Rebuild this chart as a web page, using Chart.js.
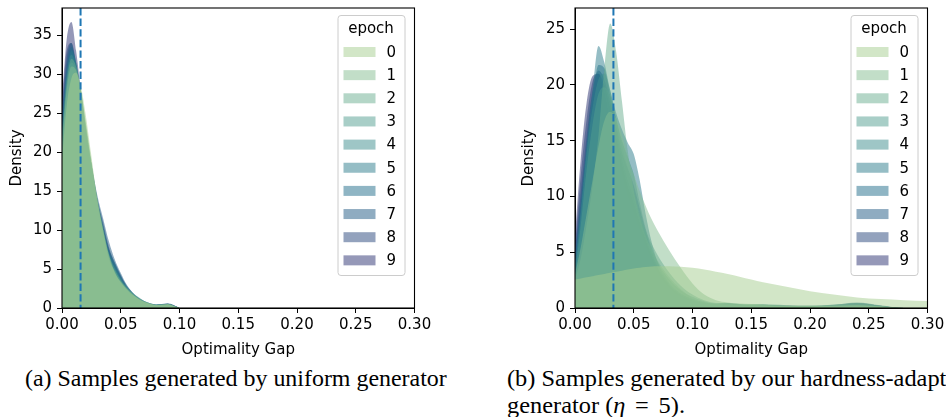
<!DOCTYPE html>
<html>
<head>
<meta charset="utf-8">
<script src="https://cdn.jsdelivr.net/npm/chart.js@4/dist/chart.umd.min.js"></script>
<style>
  html, body { margin: 0; padding: 0; background: #fff; }
  body { width: 946px; height: 417px; overflow: hidden; position: relative; }
  canvas { position: absolute; top: 0; }
  #cA { left: 0; }
  #cB { left: 510px; }
  .cap { position: absolute; font-family: "Liberation Serif", "Times New Roman", serif; font-size: 23px;
         line-height: 27px; color: #000; white-space: nowrap; transform-origin: left top; }
  .eq { margin: 0 0.4em; }
</style>
</head>
<body>
<canvas id="cA" width="470" height="362"></canvas>
<canvas id="cB" width="470" height="362"></canvas>
<div class="cap" style="left:25px; top:365px; transform: scaleX(1.04);">(a) Samples generated by uniform generator</div>
<div class="cap" style="left:507px; top:365px; transform: scaleX(1.06);">(b) Samples generated by our hardness-adaptive<br>generator (<i>η</i><span class="eq">=</span>5).</div>
<script>
// epoch labels + crest colours
const epochs = ['0', '1', '2', '3', '4', '5', '6', '7', '8', '9'];
const epochColors = ['#a5cd90', '#86be91', '#69ae90', '#519e8f', '#3d8e8e', '#2b7c8c', '#206b89', '#205984', '#27457c', '#2c3172'];

// (a) uniform generator
const gapA = [0, 0.004, 0.008, 0.012, 0.016, 0.02, 0.025, 0.03, 0.035, 0.04, 0.045, 0.05, 0.055, 0.06, 0.065, 0.07, 0.075, 0.08, 0.085, 0.09, 0.095, 0.1];
const uni0 = [19, 26, 29.5, 30.2, 28.5, 25, 19.5, 14, 10, 6.8, 4.6, 3.3, 2.4, 1.7, 1.2, 0.8, 0.55, 0.4, 0.45, 0.5, 0.3, 0];
const uni1 = [21, 28, 31, 30.5, 28, 24, 19, 14.2, 10, 6.5, 4.5, 3.4, 2.5, 1.8, 1.2, 0.8, 0.5, 0.35, 0.4, 0.45, 0.25, 0];
const uni2 = [22, 29, 32, 31, 28, 24, 18.5, 13.5, 9.5, 6.2, 4.8, 3.5, 2.6, 1.9, 1.3, 0.9, 0.6, 0.4, 0.35, 0.4, 0.2, 0];
const uni3 = [20, 28.5, 31.5, 30.5, 27.5, 23.5, 18.5, 14, 10.5, 7, 5, 3.6, 2.6, 1.8, 1.2, 0.8, 0.55, 0.4, 0.45, 0.5, 0.3, 0];
const uni4 = [23, 30, 32.5, 31, 27.5, 23, 18, 13.5, 10, 6.8, 5.2, 3.8, 2.8, 2, 1.4, 0.9, 0.6, 0.45, 0.5, 0.55, 0.3, 0];
const uni5 = [22, 29.5, 33, 31.5, 28, 23.5, 18.5, 14, 10, 7.2, 5.6, 3.9, 2.6, 1.8, 1.2, 0.8, 0.5, 0.4, 0.45, 0.5, 0.3, 0];
const uni6 = [24, 31, 33.5, 31.5, 27.5, 23, 18.5, 14, 10.5, 7.5, 5.8, 4.2, 2.9, 2, 1.3, 0.9, 0.6, 0.45, 0.5, 0.55, 0.35, 0];
const uni7 = [25, 32, 34, 31.5, 27, 22.5, 18.5, 14.5, 11.5, 8.5, 6.2, 4.5, 3, 2, 1.3, 0.85, 0.55, 0.45, 0.5, 0.6, 0.4, 0];
const uni8 = [26, 33, 34, 31, 27, 22.5, 18, 14, 11, 7.8, 5.8, 4.2, 2.8, 1.9, 1.2, 0.8, 0.5, 0.4, 0.45, 0.55, 0.35, 0];
const uni9 = [27, 34.5, 36.7, 33, 28, 23, 18, 13.8, 10.5, 7.5, 5.5, 4, 2.7, 1.8, 1.2, 0.8, 0.5, 0.35, 0.4, 0.5, 0.3, 0];
const medianA = 0.0158;

// (b) hardness-adaptive generator
const gapB = [0, 0.005, 0.01, 0.015, 0.02, 0.025, 0.03, 0.035, 0.04, 0.045, 0.05, 0.055, 0.06, 0.065, 0.07, 0.08, 0.09, 0.1, 0.11, 0.12, 0.13, 0.14, 0.15, 0.16, 0.18, 0.2, 0.22, 0.24, 0.26, 0.28, 0.3];
const adv0 = [2.55, 2.65, 2.75, 2.85, 2.95, 3.05, 3.15, 3.25, 3.35, 3.45, 3.55, 3.62, 3.68, 3.72, 3.75, 3.75, 3.7, 3.6, 3.45, 3.25, 3.05, 2.8, 2.55, 2.3, 1.9, 1.5, 1.2, 0.95, 0.8, 0.7, 0.63];
const adv1 = [3, 5.5, 8.5, 11.5, 14.5, 16.8, 17.6, 17, 15.5, 13.5, 12, 10.5, 9.2, 8, 7, 5.2, 3.6, 2.2, 1.2, 0.7, 0.5, 0.4, 0.35, 0.3, 0.2, 0.2, 0.2, 0.25, 0.15, 0, 0];
const adv2 = [2.5, 4.5, 7.5, 11, 15.5, 21.5, 25.5, 23, 18.5, 14, 10.5, 8.2, 6.5, 5.3, 4.3, 2.8, 1.7, 0.9, 0.5, 0.35, 0.3, 0.25, 0.25, 0.2, 0.15, 0.15, 0.1, 0.1, 0.05, 0, 0];
const adv3 = [3, 7.5, 12.5, 16.5, 19.2, 19.8, 19, 17, 14.5, 12.5, 10.5, 8.5, 7, 5.8, 4.8, 3.2, 2, 1.2, 0.7, 0.45, 0.4, 0.3, 0.35, 0.3, 0.2, 0.15, 0.2, 0.3, 0.15, 0, 0];
const adv4 = [3.5, 8.5, 14, 18, 20.5, 21, 19.5, 17, 15, 13.5, 12, 9.5, 7.2, 5.5, 4.2, 2.6, 1.6, 1, 0.6, 0.4, 0.45, 0.35, 0.3, 0.35, 0.25, 0.2, 0.3, 0.4, 0.2, 0, 0];
const adv5 = [4, 9, 14.5, 19.5, 23.5, 22, 19.5, 17.5, 16, 14.8, 13.8, 11.5, 8.5, 6, 4.2, 2.3, 1.3, 0.8, 0.5, 0.4, 0.45, 0.35, 0.3, 0.3, 0.2, 0.2, 0.3, 0.45, 0.2, 0, 0];
const adv6 = [4.5, 9.5, 14.5, 18.8, 21.8, 21.5, 19, 16.5, 14, 12.5, 11, 9, 7, 5.2, 3.8, 2.2, 1.3, 0.8, 0.5, 0.35, 0.4, 0.3, 0.25, 0.3, 0.2, 0.2, 0.3, 0.5, 0.25, 0, 0];
const adv7 = [5, 10.5, 15.5, 19.5, 21.3, 20.5, 18.5, 16, 13.5, 11.5, 10, 8.2, 6.5, 5, 3.7, 2.1, 1.2, 0.7, 0.45, 0.35, 0.4, 0.3, 0.25, 0.25, 0.2, 0.15, 0.25, 0.45, 0.2, 0, 0];
const adv8 = [5.5, 12, 17, 20.3, 21, 20, 18, 15.5, 13, 11, 9.5, 7.8, 6.2, 4.8, 3.5, 2, 1.1, 0.6, 0.4, 0.3, 0.35, 0.3, 0.25, 0.25, 0.2, 0.15, 0.2, 0.4, 0.2, 0, 0];
const adv9 = [6.5, 13.5, 18.5, 20.8, 21, 19.5, 17, 14.5, 12, 10, 8.5, 7, 5.6, 4.3, 3.2, 1.8, 1, 0.6, 0.4, 0.3, 0.3, 0.25, 0.2, 0.2, 0.15, 0.15, 0.2, 0.35, 0.15, 0, 0];
const medianB = 0.0327;

const FONT = 'DejaVu Sans';
Chart.defaults.color = '#000';
Chart.defaults.font.family = FONT;
Chart.defaults.font.size = 15;

// full box around the axes
const frame = {
    id: 'frame',
    afterDraw(chart) {
        const a = chart.chartArea, ctx = chart.ctx;
        ctx.save();
        ctx.strokeStyle = '#000';
        ctx.lineWidth = 1.1;
        ctx.strokeRect(a.left, a.top, a.right - a.left, a.bottom - a.top);
        ctx.restore();
    }
};

// dashed vertical line
const vline = {
    id: 'vline',
    afterDatasetsDraw(chart, args, opts) {
        const a = chart.chartArea, ctx = chart.ctx;
        const x = chart.scales.x.getPixelForValue(opts.value);
        ctx.save();
        ctx.strokeStyle = '#1f77b4';
        ctx.lineWidth = 2;
        ctx.setLineDash([7.4, 3.2]);
        ctx.beginPath();
        ctx.moveTo(x, a.top);
        ctx.lineTo(x, a.bottom);
        ctx.stroke();
        ctx.restore();
    }
};

// matplotlib-like legend in the upper right corner
const boxLegend = {
    id: 'boxLegend',
    afterDraw(chart) {
        const a = chart.chartArea, ctx = chart.ctx;
        const w = 67, h = 260;
        const bx = a.right - 10 - w, by = a.top + 7;
        ctx.save();
        ctx.beginPath();
        ctx.roundRect(bx + 0.5, by + 0.5, w, h, 3);
        ctx.fillStyle = 'rgba(255,255,255,0.8)';
        ctx.fill();
        ctx.strokeStyle = '#cccccc';
        ctx.lineWidth = 1;
        ctx.stroke();
        ctx.fillStyle = '#000';
        ctx.font = '15px "' + FONT + '"';
        ctx.textBaseline = 'middle';
        ctx.textAlign = 'center';
        ctx.fillText('epoch', bx + w / 2, by + 14.5);
        ctx.textAlign = 'left';
        chart.data.datasets.forEach((d, i) => {
            const cy = by + 37 + i * 23.15;
            ctx.fillStyle = d.backgroundColor;
            ctx.fillRect(bx + 6, cy - 5, 32, 10);
            ctx.fillStyle = '#000';
            ctx.fillText(d.label, bx + 49, cy + 1);
        });
        ctx.restore();
    }
};

function noPad(s) {
    s.paddingTop = 0; s.paddingBottom = 0; s.paddingLeft = 0; s.paddingRight = 0;
}

function makeChart(id, gap, series, ymax, median, yWidth, titlePad) {
    const datasets = series.map((vals, i) => ({
        label: epochs[i],
        data: gap.map((g, k) => ({ x: g, y: vals[k] })),
        backgroundColor: epochColors[i] + '80',
        borderColor: 'transparent',
        borderWidth: 0,
        fill: 'origin',
        pointRadius: 0,
        cubicInterpolationMode: 'monotone'
    }));
    return new Chart(document.getElementById(id), {
        type: 'line',
        data: { datasets },
        plugins: [frame, vline, boxLegend],
        options: {
            responsive: false,
            animation: false,
            devicePixelRatio: 1,
            layout: { padding: { left: 0, top: 8, right: 470 - yWidth - 352.5, bottom: 0 } },
            plugins: { legend: { display: false }, tooltip: { enabled: false }, vline: { value: median } },
            scales: {
                x: {
                    type: 'linear', min: 0, max: 0.3,
                    ticks: { stepSize: 0.05, maxRotation: 0, autoSkip: false, padding: 3, callback: v => v.toFixed(2) },
                    afterBuildTicks: s => { s.ticks = s.ticks.filter(t => Math.abs(t.value / 0.05 - Math.round(t.value / 0.05)) < 1e-6); },
                    afterFit: s => { s.height = 54; noPad(s); },
                    grid: { drawOnChartArea: false, drawTicks: true, tickLength: 5, color: '#000' },
                    border: { color: '#000' },
                    title: { display: true, text: 'Optimality Gap', padding: { top: 0, bottom: 3 } }
                },
                y: {
                    min: 0, max: ymax,
                    ticks: { stepSize: 5, padding: 5 },
                    afterBuildTicks: s => { s.ticks = s.ticks.filter(t => Math.abs(t.value / 5 - Math.round(t.value / 5)) < 1e-6); },
                    afterFit: s => { s.width = yWidth; noPad(s); },
                    grid: { drawOnChartArea: false, drawTicks: true, tickLength: 5, color: '#000' },
                    border: { color: '#000' },
                    title: { display: true, text: 'Density', padding: { top: titlePad, bottom: 0 } }
                }
            }
        }
    });
}

makeChart('cA', gapA, [uni0, uni1, uni2, uni3, uni4, uni5, uni6, uni7, uni8, uni9], 38.5, medianA, 62, 8);
makeChart('cB', gapB, [adv0, adv1, adv2, adv3, adv4, adv5, adv6, adv7, adv8, adv9], 26.9, medianB, 65, 10);
</script>
</body>
</html>
